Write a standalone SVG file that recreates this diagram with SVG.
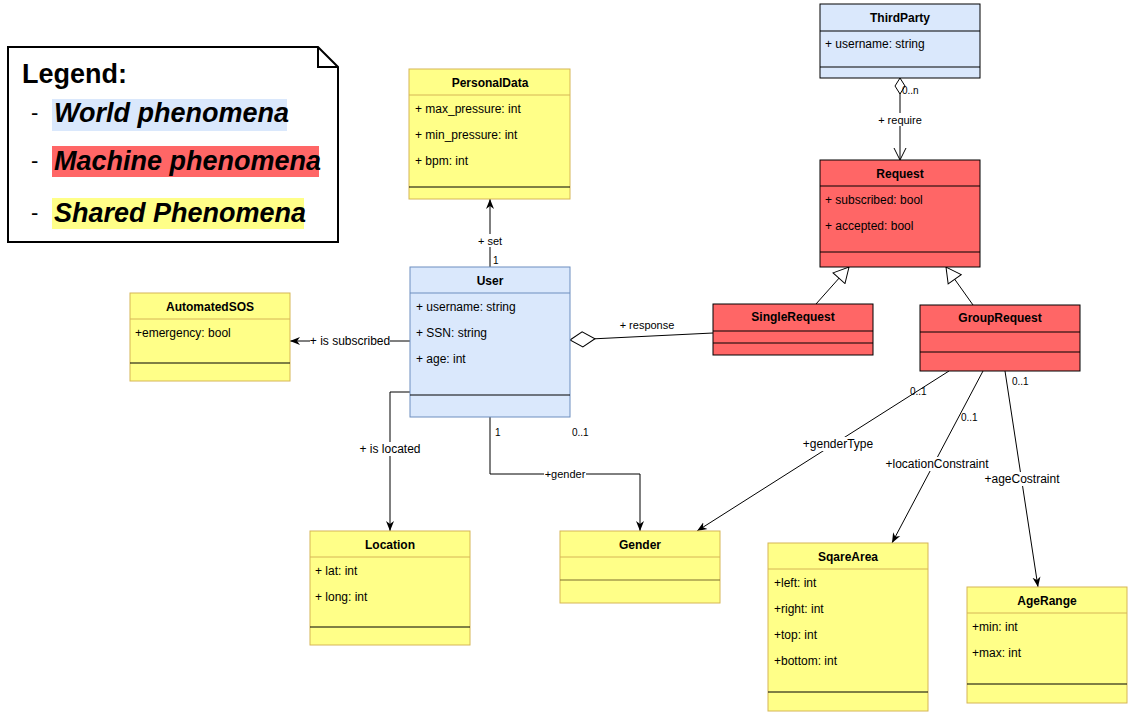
<svg xmlns="http://www.w3.org/2000/svg" width="1132" height="717" viewBox="0 0 1132 717">
<style>
text{font-family:"Liberation Sans",Arial,sans-serif;fill:#000}
.hd{font-size:12px;font-weight:bold;text-anchor:middle}
.at{font-size:12px}
.lbl{font-size:11px;text-anchor:middle}
.lbl12{font-size:12px;text-anchor:middle}
.mul{font-size:10px}
.world{fill:#dae8fc;stroke:#6c8ebf}
.worldk{fill:#dae8fc;stroke:#000}
.mach{fill:#ff6666;stroke:#000}
.shared{fill:#ffff88;stroke:#d6b656}
.sep{stroke:#000;stroke-width:1}
.edge{fill:none;stroke:#000;stroke-width:1}
.bg{fill:#fff}
.leg{font-size:27px;font-weight:bold;font-style:italic}
</style>
<defs>
<marker id="arr" viewBox="0 0 10 10" refX="10" refY="5" markerWidth="10" markerHeight="10" markerUnits="userSpaceOnUse" orient="auto">
<path d="M0,1 L10,5 L0,9 L3,5 z" fill="#000"/>
</marker>
<marker id="open" viewBox="-1 -1 14 14" refX="12" refY="6" markerWidth="14" markerHeight="14" markerUnits="userSpaceOnUse" orient="auto">
<path d="M0,0 L12,6 L0,12" fill="none" stroke="#000"/>
</marker>
<marker id="tri" viewBox="-1 -1 18 18" refX="15" refY="8" markerWidth="18" markerHeight="18" markerUnits="userSpaceOnUse" orient="auto">
<path d="M0,0 L15,8 L0,16 z" fill="#fff" stroke="#000"/>
</marker>
<marker id="dia" viewBox="-1 -1 27 17" refX="0" refY="7.5" markerWidth="27" markerHeight="17" markerUnits="userSpaceOnUse" orient="auto">
<path d="M0,7.5 L12.5,0 L25,7.5 L12.5,15 z" fill="#fff" stroke="#000"/>
</marker>
<marker id="diaS" viewBox="-1 -1 18 12" refX="0" refY="5" markerWidth="18" markerHeight="12" markerUnits="userSpaceOnUse" orient="auto">
<path d="M0,5 L8,0 L16,5 L8,10 z" fill="#fff" stroke="#000"/>
</marker>
</defs>
<rect width="1132" height="717" fill="#fff"/>

<g id="legend">
<path d="M8,47 L318,47 L338,67 L338,242 L8,242 z" fill="#fff" stroke="#000" stroke-width="2"/>
<path d="M318,47 L318,67 L338,67" fill="none" stroke="#000" stroke-width="2"/>
<text x="22" y="83" style="font-size:27px;font-weight:bold">Legend:</text>
<rect x="52" y="99" width="235" height="32" fill="#dae8fc"/>
<rect x="52" y="146" width="267" height="31" fill="#ff6666"/>
<rect x="52" y="198" width="252" height="31" fill="#ffff88"/>
<text x="31" y="120" style="font-size:22px">-</text>
<text x="31" y="168" style="font-size:22px">-</text>
<text x="31" y="220" style="font-size:22px">-</text>
<text x="54" y="122" class="leg">World phenomena</text>
<text x="54" y="170" class="leg">Machine phenomena</text>
<text x="54" y="222" class="leg">Shared Phenomena</text>
</g>

<g id="connectors">
<line class="edge" x1="490" y1="267" x2="490" y2="199" marker-end="url(#arr)"/>
<rect class="bg" x="478" y="234" width="24" height="13"/>
<text class="lbl" x="490" y="245">+ set</text>
<text class="mul" x="493" y="264">1</text>

<line class="edge" x1="900" y1="78" x2="900" y2="160" marker-start="url(#diaS)" marker-end="url(#open)"/>
<rect class="bg" x="877" y="113" width="46" height="13"/>
<text class="lbl" x="900" y="124">+ require</text>
<text class="mul" x="902" y="94">0..n</text>

<line class="edge" x1="816" y1="304" x2="849" y2="267" marker-end="url(#tri)"/>
<line class="edge" x1="973" y1="305" x2="946" y2="267" marker-end="url(#tri)"/>

<line class="edge" x1="570" y1="340" x2="713" y2="333" marker-start="url(#dia)"/>
<text class="lbl" x="647" y="329">+ response</text>

<line class="edge" x1="410" y1="341" x2="290" y2="341" marker-end="url(#arr)"/>
<rect class="bg" x="310" y="334" width="80" height="14"/>
<text class="lbl12" x="350" y="345">+ is subscribed</text>

<polyline class="edge" points="410,392 390,392 390,531" marker-end="url(#arr)"/>
<rect class="bg" x="359" y="442" width="62" height="14"/>
<text class="lbl12" x="390" y="453">+ is located</text>

<polyline class="edge" points="490,417 490,474 640,474 640,531" marker-end="url(#arr)"/>
<rect class="bg" x="544" y="468" width="42" height="12"/>
<text class="lbl" x="565" y="478">+gender</text>
<text class="mul" x="495" y="436">1</text>
<text class="mul" x="572" y="436">0..1</text>

<line class="edge" x1="949" y1="371" x2="697" y2="531" marker-end="url(#arr)"/>
<rect class="bg" x="802" y="437" width="72" height="14"/>
<text class="lbl12" x="838" y="448">+genderType</text>
<text class="mul" x="910" y="395">0..1</text>

<line class="edge" x1="983" y1="371" x2="892" y2="543" marker-end="url(#arr)"/>
<rect class="bg" x="884" y="457" width="106" height="14"/>
<text class="lbl12" x="937" y="468">+locationConstraint</text>
<text class="mul" x="961" y="421">0..1</text>

<line class="edge" x1="1005" y1="371" x2="1038" y2="587" marker-end="url(#arr)"/>
<rect class="bg" x="984" y="472" width="77" height="14"/>
<text class="lbl12" x="1022" y="483">+ageCostraint</text>
<text class="mul" x="1012" y="385">0..1</text>
</g>

<g id="ThirdParty">
<rect class="worldk" x="820" y="4" width="160" height="74"/>
<line class="sep" x1="820" y1="31" x2="980" y2="31"/>
<line class="sep" x1="820" y1="67" x2="980" y2="67"/>
<text class="hd" x="900" y="22">ThirdParty</text>
<text class="at" x="825" y="48">+ username: string</text>
</g>

<g id="Request">
<rect class="mach" x="820" y="160" width="160" height="107"/>
<line class="sep" x1="820" y1="186" x2="980" y2="186"/>
<line class="sep" x1="820" y1="252" x2="980" y2="252"/>
<text class="hd" x="900" y="178">Request</text>
<text class="at" x="825" y="204">+ subscribed: bool</text>
<text class="at" x="825" y="230">+ accepted: bool</text>
</g>

<g id="PersonalData">
<rect class="shared" x="409" y="69" width="161" height="130"/>
<line x1="409" y1="95" x2="570" y2="95" stroke="#d6b656"/>
<line class="sep" x1="409" y1="187" x2="570" y2="187"/>
<text class="hd" x="490" y="87">PersonalData</text>
<text class="at" x="415" y="113">+ max_pressure: int</text>
<text class="at" x="415" y="139">+ min_pressure: int</text>
<text class="at" x="415" y="165">+ bpm: int</text>
</g>

<g id="User">
<rect class="world" x="410" y="267" width="160" height="150"/>
<line x1="410" y1="293" x2="570" y2="293" stroke="#6c8ebf"/>
<line class="sep" x1="410" y1="395" x2="570" y2="395"/>
<text class="hd" x="490" y="285">User</text>
<text class="at" x="416" y="311">+ username: string</text>
<text class="at" x="416" y="337">+ SSN: string</text>
<text class="at" x="416" y="363">+ age: int</text>
</g>

<g id="AutomatedSOS">
<rect class="shared" x="130" y="293" width="160" height="88"/>
<line x1="130" y1="319" x2="290" y2="319" stroke="#d6b656"/>
<line class="sep" x1="130" y1="363" x2="290" y2="363"/>
<text class="hd" x="210" y="311">AutomatedSOS</text>
<text class="at" x="135" y="337">+emergency: bool</text>
</g>

<g id="SingleRequest">
<rect class="mach" x="713" y="304" width="160" height="51"/>
<line class="sep" x1="713" y1="331" x2="873" y2="331"/>
<line class="sep" x1="713" y1="343" x2="873" y2="343"/>
<text class="hd" x="793" y="321">SingleRequest</text>
</g>

<g id="GroupRequest">
<rect class="mach" x="920" y="305" width="160" height="66"/>
<line class="sep" x1="920" y1="332" x2="1080" y2="332"/>
<line class="sep" x1="920" y1="352" x2="1080" y2="352"/>
<text class="hd" x="1000" y="322">GroupRequest</text>
</g>

<g id="Location">
<rect class="shared" x="310" y="531" width="160" height="114"/>
<line x1="310" y1="557" x2="470" y2="557" stroke="#d6b656"/>
<line class="sep" x1="310" y1="627" x2="470" y2="627"/>
<text class="hd" x="390" y="549">Location</text>
<text class="at" x="315" y="575">+ lat: int</text>
<text class="at" x="315" y="601">+ long: int</text>
</g>

<g id="Gender">
<rect class="shared" x="560" y="531" width="160" height="72"/>
<line x1="560" y1="557" x2="720" y2="557" stroke="#d6b656"/>
<line x1="560" y1="580" x2="720" y2="580" stroke="#7a6d2e"/>
<text class="hd" x="640" y="549">Gender</text>
</g>

<g id="SqareArea">
<rect class="shared" x="768" y="543" width="160" height="168"/>
<line x1="768" y1="569" x2="928" y2="569" stroke="#d6b656"/>
<line class="sep" x1="768" y1="692" x2="928" y2="692"/>
<text class="hd" x="848" y="561">SqareArea</text>
<text class="at" x="774" y="587">+left: int</text>
<text class="at" x="774" y="613">+right: int</text>
<text class="at" x="774" y="639">+top: int</text>
<text class="at" x="774" y="665">+bottom: int</text>
</g>

<g id="AgeRange">
<rect class="shared" x="967" y="587" width="160" height="116"/>
<line x1="967" y1="613" x2="1127" y2="613" stroke="#d6b656"/>
<line class="sep" x1="967" y1="684" x2="1127" y2="684"/>
<text class="hd" x="1047" y="605">AgeRange</text>
<text class="at" x="972" y="631">+min: int</text>
<text class="at" x="972" y="657">+max: int</text>
</g>
</svg>
